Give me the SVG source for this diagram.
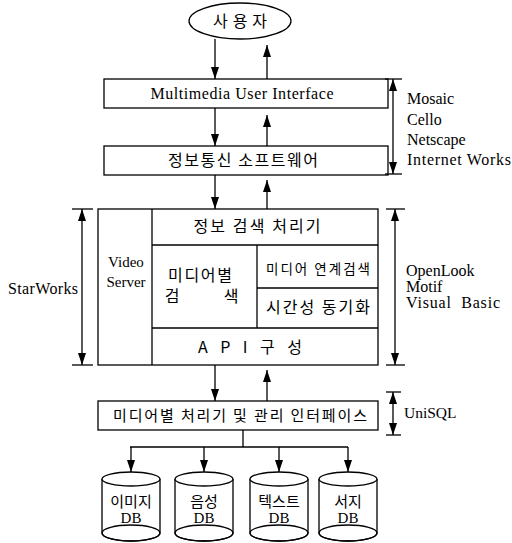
<svg xmlns="http://www.w3.org/2000/svg" width="512" height="543" viewBox="0 0 512 543">
<style>
.ln{stroke:#000;stroke-width:1.3;fill:none}
.bx{stroke:#000;stroke-width:1.3;fill:#fff}
.ko{font-family:"Noto Sans CJK KR","Noto Sans",sans-serif;fill:#000}
.en{font-family:"Liberation Serif","Times New Roman",serif;fill:#000}
.ar{stroke:#000;stroke-width:1.3;fill:none;marker-end:url(#ah)}
.dim{stroke:#000;stroke-width:1.3;fill:none;marker-end:url(#ah);marker-start:url(#ah)}
</style>
<defs>
<marker id="ah" markerUnits="userSpaceOnUse" markerWidth="12" markerHeight="8" refX="12" refY="4" orient="auto-start-reverse">
<path d="M0,0 L12,4 L0,8 z" fill="#000"/>
</marker>
</defs>
<rect width="512" height="543" fill="#fff"/>

<g id="user">
<ellipse class="bx" cx="240" cy="21" rx="51" ry="18"/>
<text class="ko" x="240" y="27" font-size="16" text-anchor="middle" textLength="54" lengthAdjust="spacing">사 용 자</text>
</g>

<g id="mui">
<rect class="bx" x="104" y="79" width="284" height="29"/>
<text class="en" x="242" y="99" font-size="16" text-anchor="middle" textLength="183" lengthAdjust="spacing">Multimedia User Interface</text>
</g>

<g id="comm">
<rect class="bx" x="104" y="146" width="284" height="29"/>
<text class="ko" x="243" y="166" font-size="16" text-anchor="middle" textLength="150" lengthAdjust="spacing">정보통신 소프트웨어</text>
</g>

<g id="core">
<rect class="bx" x="98" y="209" width="280" height="156"/>
<line class="ln" x1="152" y1="209" x2="152" y2="365"/>
<line class="ln" x1="152" y1="245" x2="378" y2="245"/>
<line class="ln" x1="152" y1="328" x2="378" y2="328"/>
<line class="ln" x1="257" y1="245" x2="257" y2="328"/>
<line class="ln" x1="257" y1="288" x2="378" y2="288"/>
<text class="ko" x="257" y="232" font-size="16" text-anchor="middle" textLength="127" lengthAdjust="spacing">정보 검색 처리기</text>
<text class="en" x="126" y="267" font-size="15" text-anchor="middle">Video</text>
<text class="en" x="126" y="287" font-size="15" text-anchor="middle">Server</text>
<text class="ko" x="200" y="281" font-size="16" text-anchor="middle" textLength="64" lengthAdjust="spacing">미디어별</text>
<text class="ko" x="172" y="302" font-size="16" text-anchor="middle">검</text>
<text class="ko" x="231" y="302" font-size="16" text-anchor="middle">색</text>
<text class="ko" x="318" y="274" font-size="13.5" text-anchor="middle" textLength="104" lengthAdjust="spacing">미디어 연계검색</text>
<text class="ko" x="318" y="313" font-size="16" text-anchor="middle" textLength="104" lengthAdjust="spacing">시간성 동기화</text>
<text class="ko" x="250" y="353" font-size="16" text-anchor="middle" textLength="104" lengthAdjust="spacing">A P I  구 성</text>
</g>

<g id="media">
<rect class="bx" x="98" y="401" width="280" height="29"/>
<text class="ko" x="240" y="421" font-size="15" text-anchor="middle" textLength="254" lengthAdjust="spacing">미디어별 처리기 및 관리 인터페이스</text>
</g>

<g id="db1">
<path class="bx" d="M102,479 L102,533 A29,8 0 0 0 160,533 L160,479"/>
<ellipse class="ln" cx="131" cy="533" rx="29" ry="8"/>
<ellipse class="bx" cx="131" cy="479" rx="29" ry="7"/>
<text class="ko" x="131" y="507" font-size="15" text-anchor="middle">이미지</text>
<text class="en" x="131" y="523" font-size="15" text-anchor="middle">DB</text>
</g>
<g id="db2">
<path class="bx" d="M175,479 L175,533 A29,8 0 0 0 233,533 L233,479"/>
<ellipse class="ln" cx="204" cy="533" rx="29" ry="8"/>
<ellipse class="bx" cx="204" cy="479" rx="29" ry="7"/>
<text class="ko" x="204" y="507" font-size="15" text-anchor="middle">음성</text>
<text class="en" x="204" y="523" font-size="15" text-anchor="middle">DB</text>
</g>
<g id="db3">
<path class="bx" d="M250,479 L250,533 A29,8 0 0 0 308,533 L308,479"/>
<ellipse class="ln" cx="279" cy="533" rx="29" ry="8"/>
<ellipse class="bx" cx="279" cy="479" rx="29" ry="7"/>
<text class="ko" x="279" y="507" font-size="15" text-anchor="middle">텍스트</text>
<text class="en" x="279" y="523" font-size="15" text-anchor="middle">DB</text>
</g>
<g id="db4">
<path class="bx" d="M319,479 L319,533 A29,8 0 0 0 377,533 L377,479"/>
<ellipse class="ln" cx="348" cy="533" rx="29" ry="8"/>
<ellipse class="bx" cx="348" cy="479" rx="29" ry="7"/>
<text class="ko" x="348" y="507" font-size="15" text-anchor="middle">서지</text>
<text class="en" x="348" y="523" font-size="15" text-anchor="middle">DB</text>
</g>

<g id="labels">
<text class="en" x="407" y="104" font-size="16">Mosaic</text>
<text class="en" x="407" y="125" font-size="16">Cello</text>
<text class="en" x="407" y="145" font-size="16">Netscape</text>
<text class="en" x="407" y="165" font-size="16" textLength="104" lengthAdjust="spacing">Internet Works</text>
<text class="en" x="8" y="294" font-size="16" textLength="70" lengthAdjust="spacing">StarWorks</text>
<text class="en" x="406" y="276" font-size="16">OpenLook</text>
<text class="en" x="406" y="292" font-size="16">Motif</text>
<text class="en" x="406" y="308" font-size="16" xml:space="preserve" textLength="94" lengthAdjust="spacing">Visual  Basic</text>
<text class="en" x="404" y="418" font-size="15.5">UniSQL</text>
</g>

<g id="connectors">
<line class="ar" x1="215" y1="39" x2="215" y2="79"/>
<line class="ar" x1="267" y1="79" x2="267" y2="45"/>
<line class="ar" x1="215" y1="108" x2="215" y2="146"/>
<line class="ar" x1="267" y1="146" x2="267" y2="115"/>
<line class="ar" x1="215" y1="175" x2="215" y2="209"/>
<line class="ar" x1="267" y1="209" x2="267" y2="180"/>
<line class="ar" x1="215" y1="365" x2="215" y2="401"/>
<line class="ar" x1="267" y1="401" x2="267" y2="370"/>
<polyline class="ln" points="243,430 243,447"/>
<line class="ln" x1="130" y1="447" x2="348" y2="447"/>
<line class="ar" x1="131" y1="447" x2="131" y2="472"/>
<line class="ar" x1="204" y1="447" x2="204" y2="472"/>
<line class="ar" x1="279" y1="447" x2="279" y2="472"/>
<line class="ar" x1="348" y1="447" x2="348" y2="472"/>
<line class="dim" x1="393" y1="79" x2="393" y2="174"/>
<line class="ln" x1="385" y1="79" x2="402" y2="79"/>
<line class="ln" x1="385" y1="174" x2="402" y2="174"/>
<line class="dim" x1="82" y1="209" x2="82" y2="365"/>
<line class="ln" x1="72" y1="209" x2="93" y2="209"/>
<line class="ln" x1="72" y1="365" x2="93" y2="365"/>
<line class="dim" x1="395" y1="209" x2="395" y2="365"/>
<line class="ln" x1="386" y1="209" x2="405" y2="209"/>
<line class="ln" x1="386" y1="365" x2="405" y2="365"/>
<line class="dim" x1="393" y1="392" x2="393" y2="435"/>
<line class="ln" x1="386" y1="392" x2="401" y2="392"/>
<line class="ln" x1="386" y1="435" x2="401" y2="435"/>
</g>
</svg>
